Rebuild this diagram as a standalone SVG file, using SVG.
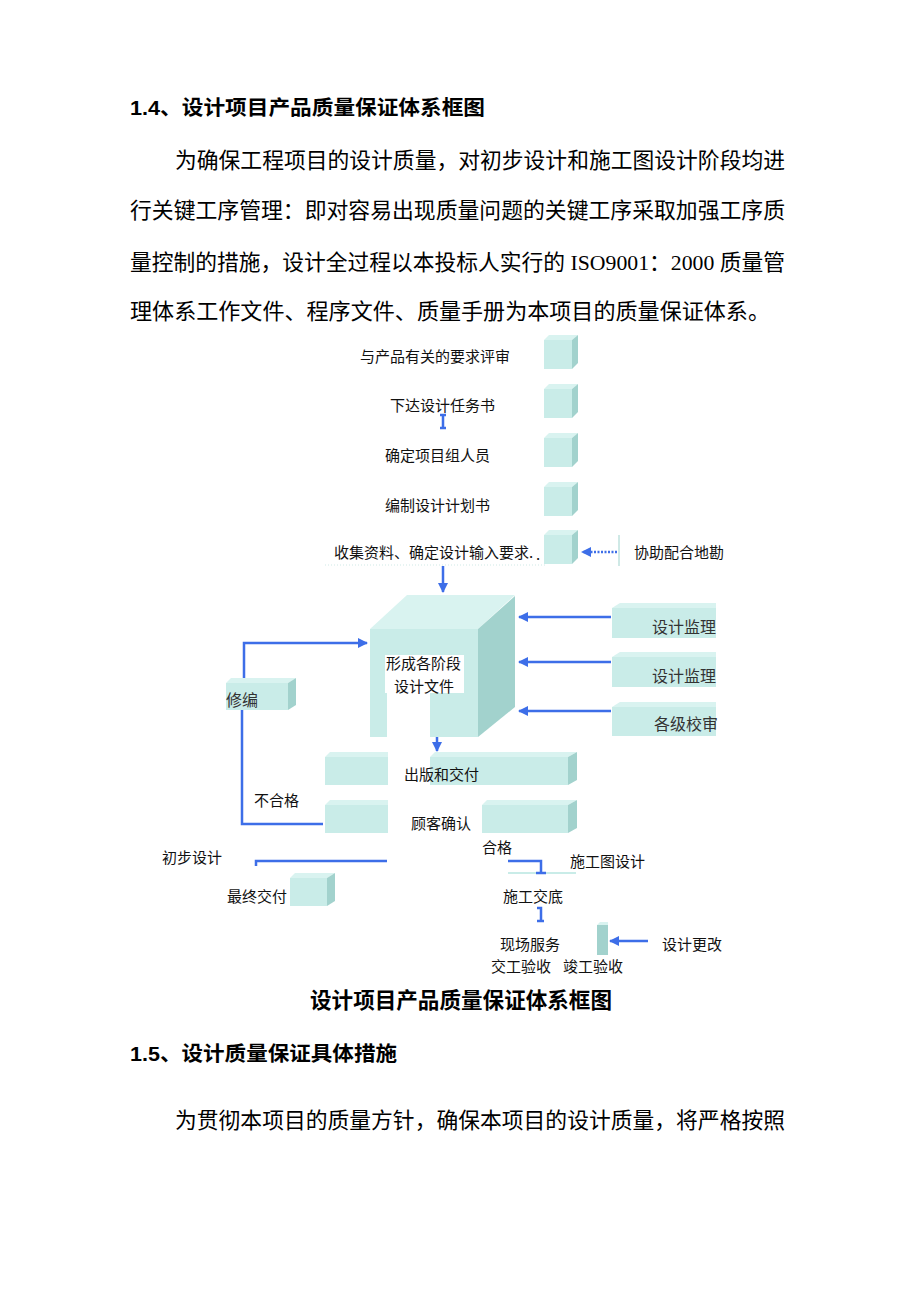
<svg xmlns="http://www.w3.org/2000/svg" width="920" height="1302" viewBox="0 0 920 1302">
<style>
.body{font-family:"Liberation Serif","Noto Sans CJK SC",serif;font-size:21.8px;fill:#000}
.hd{font-family:"Liberation Sans","Noto Sans CJK SC",sans-serif;font-size:20.5px;font-weight:bold;fill:#000}
.cap{font-family:"Liberation Serif","Noto Sans CJK SC",serif;font-size:21.6px;font-weight:bold;fill:#000}
.t{font-family:"Noto Sans CJK SC",sans-serif;font-size:15px;fill:#111}
.ts{font-family:"Liberation Serif","Noto Sans CJK SC",serif;font-size:16px;fill:#333}
.front{fill:#c9ece8}
.top{fill:#d9f3f0}
.side{fill:#a2d2cd}
.ln{stroke:#3d6ee8;stroke-width:2.5;fill:none}
.lnd{stroke:#3d6ee8;stroke-width:2.5;fill:none;stroke-dasharray:2 1.5}
</style>
<defs>
<marker id="ah" viewBox="0 0 10 10" refX="9" refY="5" markerWidth="4" markerHeight="4" orient="auto" markerUnits="strokeWidth">
<path d="M0,0 L10,5 L0,10 z" fill="#3d6ee8"/>
</marker>
<symbol id="cube" viewBox="0 0 34 34" overflow="visible">
<polygon class="top" points="0,5 5,0 34,0 28,5"/>
<rect class="front" x="0" y="5" width="28" height="29"/>
<polygon class="side" points="28,5 34,0 34,28 28,34"/>
</symbol>
</defs>

<g id="text-top">
<text class="hd" x="130" y="115" textLength="355" lengthAdjust="spacingAndGlyphs">1.4、设计项目产品质量保证体系框图</text>
<text class="body" x="175" y="168" textLength="610" lengthAdjust="spacingAndGlyphs">为确保工程项目的设计质量，对初步设计和施工图设计阶段均进</text>
<text class="body" x="130" y="218" textLength="655" lengthAdjust="spacingAndGlyphs">行关键工序管理：即对容易出现质量问题的关键工序采取加强工序质</text>
<text class="body" x="130" y="270" textLength="655" lengthAdjust="spacingAndGlyphs">量控制的措施，设计全过程以本投标人实行的 ISO9001：2000 质量管</text>
<text class="body" x="130" y="319" textLength="640" lengthAdjust="spacingAndGlyphs">理体系工作文件、程序文件、质量手册为本项目的质量保证体系。</text>
</g>

<g id="n-review"><use href="#cube" x="544" y="335" width="34" height="34"/><text class="t" x="360" y="362">与产品有关的要求评审</text></g>
<g id="n-task"><use href="#cube" x="544" y="384" width="34" height="34"/><text class="t" x="390" y="411">下达设计任务书</text></g>
<g id="n-team"><use href="#cube" x="544" y="433" width="34" height="34"/><text class="t" x="385" y="461">确定项目组人员</text></g>
<g id="n-plan"><use href="#cube" x="544" y="482" width="34" height="34"/><text class="t" x="385" y="511">编制设计计划书</text></g>
<g id="n-collect"><use href="#cube" x="544" y="530" width="34" height="34"/>
<line x1="325" y1="565" x2="545" y2="565" stroke="#cfe9e6" stroke-width="1" stroke-dasharray="1 2"/>
<text class="t" x="334" y="558">收集资料、确定设计输入要求.</text><text class="t" x="536" y="560" font-size="9">.</text></g>
<g id="n-survey"><line x1="619" y1="535" x2="619" y2="566" stroke="#cfe9e6" stroke-width="2"/><text class="t" x="634" y="558">协助配合地勘</text></g>

<g id="n-main">
<polygon class="top" points="370,629 478,629 515,595 407,595"/>
<polygon class="side" points="478,629 515,596 515,707 478,737"/>
<path class="front" d="M370,629 H478 V737 H430 V693 H387 V737 H370 Z"/>
<rect x="385" y="655" width="79" height="38" fill="#fff"/>
<text class="t" x="386" y="669">形成各阶段</text>
<text class="t" x="394" y="692">设计文件</text>
</g>

<g id="n-sup1">
<polygon class="top" points="620,603 716,603 716,608 612,608"/>
<rect class="front" x="612" y="608" width="104" height="30"/>
<text class="ts" x="652" y="633">设计监理</text></g>
<g id="n-sup2">
<polygon class="top" points="620,652 716,652 716,657 612,657"/>
<rect class="front" x="612" y="657" width="104" height="30"/>
<text class="ts" x="652" y="682">设计监理</text></g>
<g id="n-check">
<polygon class="top" points="620,702 716,702 716,707 612,707"/>
<rect class="front" x="612" y="707" width="104" height="29"/>
<text class="ts" x="654" y="730">各级校审</text></g>

<g id="n-revise">
<polygon class="top" points="226,683 231,678 296,678 288,683"/>
<rect class="front" x="226" y="683" width="62" height="27"/>
<polygon class="side" points="288,683 296,678 296,705 288,710"/>
<text class="ts" x="226" y="706" fill="#222">修编</text></g>

<g id="n-publish">
<polygon class="top" points="325,757 330,752 388,752 388,757"/>
<rect class="front" x="325" y="757" width="63" height="28"/>
<polygon class="top" points="430,757 435,752 577,752 568,757"/>
<rect class="front" x="430" y="757" width="138" height="28"/>
<polygon class="side" points="568,757 577,752 577,780 568,785"/>
<text class="t" x="404" y="780">出版和交付</text></g>

<g id="n-confirm">
<polygon class="top" points="325,805 330,800 388,800 388,805"/>
<rect class="front" x="325" y="805" width="63" height="28"/>
<polygon class="top" points="482,805 487,800 577,800 568,805"/>
<rect class="front" x="482" y="805" width="86" height="28"/>
<polygon class="side" points="568,805 577,800 577,828 568,833"/>
<text class="t" x="411" y="829">顾客确认</text></g>

<g id="n-prelim"><text class="t" x="162" y="863">初步设计</text></g>
<g id="n-final">
<polygon class="top" points="290,878 295,873 335,873 327,878"/>
<rect class="front" x="290" y="878" width="37" height="28"/>
<polygon class="side" points="327,878 335,873 335,901 327,906"/>
<text class="t" x="227" y="902">最终交付</text></g>
<g id="n-construct"><line x1="508" y1="873" x2="576" y2="873" stroke="#c9ece8" stroke-width="2"/><text class="t" x="570" y="867">施工图设计</text></g>
<g id="n-handover"><text class="t" x="503" y="902">施工交底</text></g>
<g id="n-service">
<polygon class="top" points="597,925 600,922 608,922 608,925"/>
<rect class="side" x="597" y="925" width="11" height="30"/>
<text class="t" x="500" y="950">现场服务</text>
<text class="t" x="491" y="972">交工验收</text>
<text class="t" x="563" y="972">竣工验收</text></g>
<g id="n-change"><text class="t" x="662" y="950">设计更改</text></g>

<g id="connectors">
<path class="ln" d="M440,415 H446 M443,415 V428 M440,428 H446" stroke-width="1.5"/>
<line class="lnd" x1="617" y1="552" x2="582" y2="552" marker-end="url(#ah)"/>
<line class="ln" x1="443" y1="566" x2="443" y2="592" marker-end="url(#ah)"/>
<line class="ln" x1="611" y1="617" x2="519" y2="617" marker-end="url(#ah)"/>
<line class="ln" x1="611" y1="662" x2="519" y2="662" marker-end="url(#ah)"/>
<line class="ln" x1="611" y1="711" x2="519" y2="711" marker-end="url(#ah)"/>
<path class="ln" d="M244,678 V643 H367" marker-end="url(#ah)"/>
<path class="ln" d="M242,710 V824 H323"/>
<text class="t" x="254" y="806" fill="#333">不合格</text>
<text class="t" x="482" y="853">合格</text>
<line class="ln" x1="437" y1="737" x2="437" y2="751" marker-end="url(#ah)"/>
<path class="ln" d="M256,866 V861 H387"/>
<path class="ln" d="M508,861 H541 V873 M536,873 H546"/>
<path class="ln" d="M537,908 H541 V921 M537,921 H544" stroke-width="1.5"/>
<line class="ln" x1="648" y1="941" x2="610" y2="941" marker-end="url(#ah)"/>
</g>

<g id="text-bottom">
<text class="cap" x="310" y="1008" textLength="302" lengthAdjust="spacingAndGlyphs">设计项目产品质量保证体系框图</text>
<text class="hd" x="130" y="1061" textLength="267" lengthAdjust="spacingAndGlyphs">1.5、设计质量保证具体措施</text>
<text class="body" x="175" y="1128" textLength="610" lengthAdjust="spacingAndGlyphs">为贯彻本项目的质量方针，确保本项目的设计质量，将严格按照</text>
</g>
</svg>
